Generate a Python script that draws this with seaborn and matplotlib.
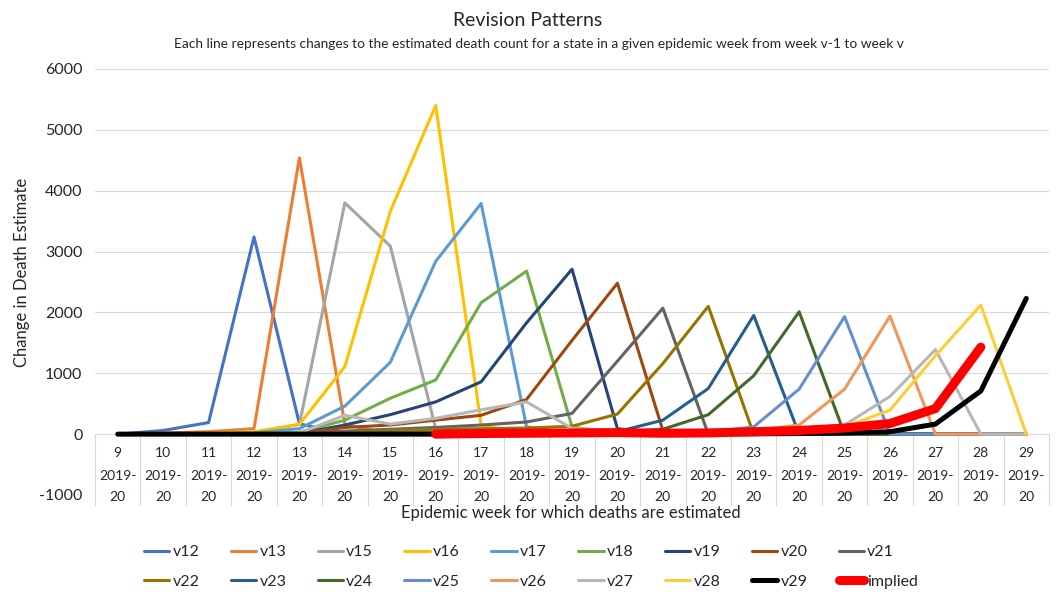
import matplotlib
matplotlib.use("Agg")
from matplotlib import pyplot as plt
from matplotlib.lines import Line2D
import pandas as pd
import numpy as np
import seaborn as sns

# epidemic weeks 9..29 of season 2019-20
weeks = list(range(9, 30))
season = "2019-20"

series_names = ["v12", "v13", "v15", "v16", "v17", "v18", "v19", "v20", "v21",
                "v22", "v23", "v24", "v25", "v26", "v27", "v28", "v29", "implied"]

#      9   10   11    12    13    14    15    16    17    18    19    20    21    22    23    24    25    26    27    28    29
v12 = [0, 60, 190, 3240, 170, 0, 0, 0, 0, 0, 0, 0, 0, 0, 0, 0, 0, 0, 0, 0, 0]
v13 = [0, 20, 40, 90, 4540, 160, 0, 0, 0, 0, 0, 0, 0, 0, 0, 0, 0, 0, 0, 0, 0]
v15 = [0, 0, 10, 30, 160, 3800, 3090, 90, 0, 0, 0, 0, 0, 0, 0, 0, 0, 0, 0, 0, 0]
v16 = [0, 0, 10, 40, 160, 1110, 3660, 5400, 150, 0, 0, 0, 0, 0, 0, 0, 0, 0, 0, 0, 0]
v17 = [0, 0, 5, 20, 90, 460, 1180, 2840, 3790, 120, 0, 0, 0, 0, 0, 0, 0, 0, 0, 0, 0]
v18 = [0, 0, 0, 10, 30, 230, 590, 890, 2160, 2680, 120, 0, 0, 0, 0, 0, 0, 0, 0, 0, 0]
v19 = [0, 0, 0, 5, 10, 150, 320, 530, 860, 1830, 2710, 90, 0, 0, 0, 0, 0, 0, 0, 0, 0]
v20 = [0, 0, 0, 0, 10, 110, 150, 230, 310, 570, 1540, 2480, 60, 0, 0, 0, 0, 0, 0, 0, 0]
v21 = [0, 0, 0, 0, 5, 50, 80, 110, 150, 200, 340, 1200, 2070, 0, 0, 0, 0, 0, 0, 0, 0]
v22 = [0, 0, 0, 0, 0, 20, 60, 80, 90, 100, 130, 330, 1160, 2100, 0, 0, 0, 0, 0, 0, 0]
v23 = [0, 0, 0, 0, 0, 10, 20, 20, 30, 30, 30, 40, 230, 750, 1950, 0, 0, 0, 0, 0, 0]
v24 = [0, 0, 0, 0, 0, 10, 10, 20, 20, 20, 30, 40, 80, 320, 960, 2010, 0, 0, 0, 0, 0]
v25 = [0, 0, 0, 0, 0, 0, 10, 10, 10, 20, 20, 20, 20, 30, 120, 740, 1930, 0, 0, 0, 0]
v26 = [0, 0, 0, 0, 0, 0, 10, 10, 10, 20, 20, 20, 30, 40, 60, 150, 740, 1940, 0, 0, 0]
v27 = [0, 0, 0, 0, 20, 310, 165, 260, 400, 530, 95, 60, 40, 30, 40, 80, 150, 620, 1390, 0, 0]
v28 = [0, 0, 0, 0, 0, 0, 0, 10, 10, 10, 10, 10, 10, 20, 20, 50, 120, 395, 1290, 2120, 0]
v29 = [0, 0, 0, 0, 0, 0, 0, 0, 0, 0, 0, 0, 0, 5, 5, 10, 20, 40, 165, 710, 2230]
implied = [np.nan] * 7 + [0, 10, 15, 20, 25, 15, 20, 40, 60, 100, 175, 420, 1430, np.nan]

series_values = [v12, v13, v15, v16, v17, v18, v19, v20, v21,
                 v22, v23, v24, v25, v26, v27, v28, v29, implied]

colors = ["#4472C4", "#ED7D31", "#A5A5A5", "#FFC000", "#5B9BD5", "#70AD47",
          "#264478", "#9E480E", "#636363", "#997300", "#255E91", "#43682B",
          "#698ED0", "#F1975A", "#B7B7B7", "#FFCD33", "#000000", "#FF0000"]
widths = [2.2] * 16 + [3.6, 6.5]

rows = []
for name, vals in zip(series_names, series_values):
    for w, v in zip(weeks, vals):
        rows.append({"week": w, "value": v, "series": name})
df = pd.DataFrame(rows).dropna()

sns.set_theme(style="white")
plt.rcParams['font.family'] = ['Lato', 'DejaVu Sans']

fig = plt.figure(figsize=(10.56, 5.96), dpi=100)
ax = fig.add_axes([95 / 1056, 1 - 495 / 596, (1049 - 95) / 1056, (495 - 69) / 596])

grid_col = "#D9D9D9"
for yv in range(-1000, 7000, 1000):
    ax.axhline(yv, color=grid_col, lw=0.8, zorder=0)

sns.lineplot(data=df, x="week", y="value", hue="series", size="series",
             hue_order=series_names, size_order=series_names,
             palette=dict(zip(series_names, colors)),
             sizes=dict(zip(series_names, widths)),
             estimator=None, sort=False, legend=False, ax=ax)
for ln in ax.get_lines():
    ln.set_solid_joinstyle("round")
    ln.set_solid_capstyle("round")

ax.set_xlim(8.5, 29.5)
ax.set_ylim(-1000, 6000)
ax.set_yticks(range(-1000, 7000, 1000))
ax.set_yticklabels([str(t) for t in range(-1000, 7000, 1000)], fontsize=11.5)
ax.tick_params(axis="y", length=0, pad=9)
ax.set_xticks([])
ax.set_xlabel("")
ax.set_ylabel("")
for s in ax.spines.values():
    s.set_visible(False)

# multi-level category axis drawn below the zero line
for b in np.arange(8.5, 30.5, 1.0):
    ax.plot([b, b], [0, -1170], color=grid_col, lw=0.8, clip_on=False, zorder=0)
for w in weeks:
    ax.text(w, -312, str(w), ha="center", va="center", fontsize=10, clip_on=False)
    ax.text(w, -690, season[:5], ha="center", va="center", fontsize=10, clip_on=False)
    ax.text(w, -1036, season[5:], ha="center", va="center", fontsize=10, clip_on=False)

fig.text(0.5, 1 - 20 / 596, "Revision Patterns", ha="center", va="center", fontsize=14)
fig.text(539 / 1056, 1 - 44 / 596,
         "Each line represents changes to the estimated death count for a state "
         "in a given epidemic week from week v-1 to week v",
         ha="center", va="center", fontsize=9.9)
fig.text(22 / 1056, 1 - 272 / 596, "Change in Death Estimate", rotation=90,
         ha="center", va="center", fontsize=12)
fig.text(571 / 1056, 1 - 513 / 596, "Epidemic week for which deaths are estimated",
         ha="center", va="center", fontsize=12)

# legend: two rows of nine, matplotlib fills columns first so interleave
handles = [Line2D([0], [0], color=c, lw=lw, solid_capstyle="round")
           for c, lw in zip(colors, widths)]
order = []
for i in range(9):
    order += [i, i + 9]
fig.legend([handles[i] for i in order], [series_names[i] for i in order],
           ncol=9, loc="center", bbox_to_anchor=(531 / 1056, 1 - 567 / 596),
           frameon=False, fontsize=11.5, handlelength=1.6, handletextpad=0.2,
           columnspacing=1.95, labelspacing=0.95)

fig.savefig("out.png", dpi=100)
